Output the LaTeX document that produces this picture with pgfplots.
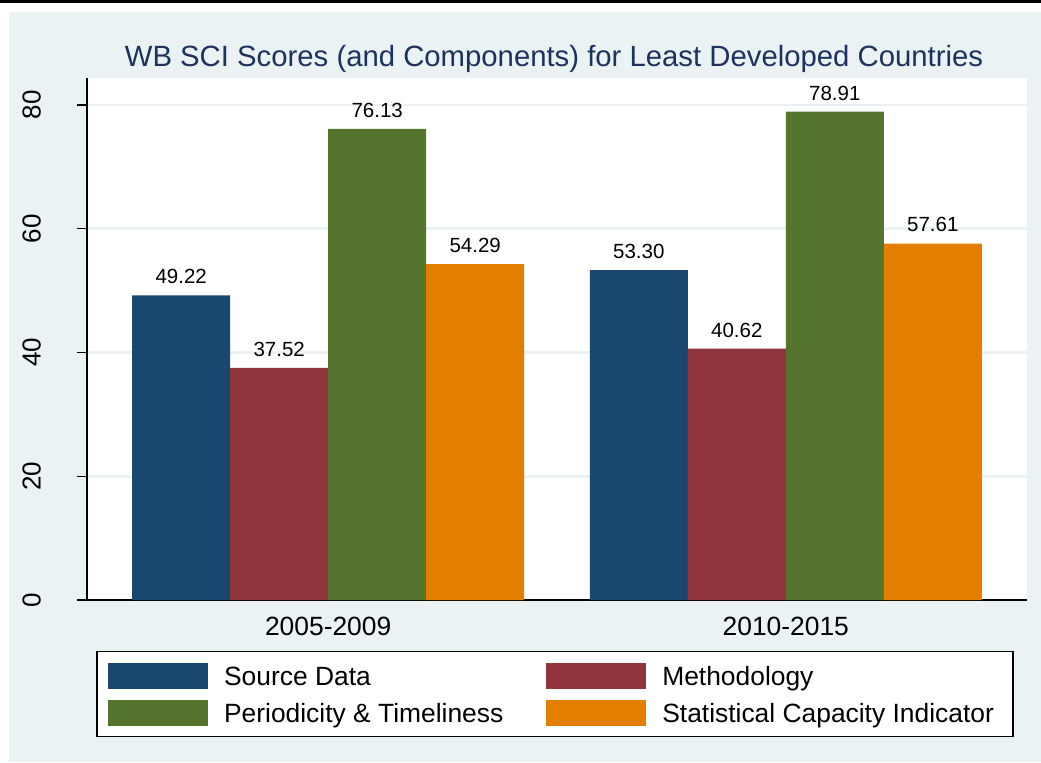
\documentclass[border=0pt]{standalone}
\usepackage{fontspec}
\setmainfont{Liberation Sans}
\usepackage{pgfplots}
\pgfplotsset{compat=1.18}
\definecolor{bgc}{RGB}{234,242,243}
\definecolor{snavy}{RGB}{26,71,111}
\definecolor{smaroon}{RGB}{144,53,59}
\definecolor{sgreen}{RGB}{85,117,47}
\definecolor{sorange}{RGB}{227,126,0}
\definecolor{titlec}{RGB}{30,50,95}
\begin{document}
\begin{tikzpicture}[x=1pt,y=1pt]
\path[use as bounding box] (0,0) rectangle (520.5,381);
\fill[white] (0,0) rectangle (520.5,381);
\fill[black] (0,379.3) rectangle (520.5,381);
\fill[bgc] (4.5,0) rectangle (520.5,375.2);
\begin{axis}[
  at={(43.5pt,81pt)}, anchor=south west,
  scale only axis, width=470pt, height=261pt,
  xmin=-0.527, xmax=1.527, ymin=0, ymax=84.36,
  axis x line*=bottom, axis y line*=left,
  axis line style={line width=0.6pt, -},
  axis background/.style={fill=white},
  xtick={0,1}, xticklabels={2005-2009,2010-2015},
  major x tick style={draw=none},
  ytick={0,20,40,60,80},
  tick align=outside,
  major tick length=5pt,
  tick style={black, line width=0.6pt},
  ymajorgrids, grid style={bgc, line width=1.3pt},
  /pgf/number format/assume math mode=true,
  xticklabel style={font=\fontsize{13.2}{15}\selectfont},
  yticklabel style={font=\fontsize{13}{15}\selectfont, rotate=90, anchor=south},
  yticklabel shift=14.5pt,
  title={WB SCI Scores (and Components) for Least Developed Countries},
  title style={font=\fontsize{14.65}{17}\selectfont, color=titlec, at={(0.5,1)}, anchor=base, yshift=-0.35pt, xshift=-1.5pt},
  ybar=0pt, bar width=49pt,
  nodes near coords={\pgfmathprintnumber[fixed,fixed zerofill,precision=2,assume math mode=true]{\pgfplotspointmeta}},
  every node near coord/.append style={font=\fontsize{10.25}{12}\selectfont, black, inner sep=0pt, anchor=south, yshift=5.5pt},
  legend columns=2,
  legend image code/.code={\fill[#1,draw=none] (0pt,-1.8pt) rectangle (50pt,11.2pt);},
  legend style={at={(0.5,0)}, anchor=north, yshift=-25.5pt, xshift=-1pt, draw=black, line width=0.6pt, fill=white,
    font=\fontsize{13.2}{15}\selectfont, inner xsep=5.5pt, inner ysep=5.5pt, row sep=5.5pt,
    cells={anchor=base west},
    nodes={inner sep=0pt, text depth=0pt},
    /tikz/every odd column/.append style={column sep=8pt},
    /tikz/every even column/.append style={column sep=21.5pt}},
]
\addplot[fill=snavy, draw=none] coordinates {(0,49.22) (1,53.30)};
\addplot[fill=smaroon, draw=none] coordinates {(0,37.52) (1,40.62)};
\addplot[fill=sgreen, draw=none] coordinates {(0,76.13) (1,78.91)};
\addplot[fill=sorange, draw=none] coordinates {(0,54.29) (1,57.61)};
\legend{Source Data, Methodology, Periodicity \& Timeliness, Statistical Capacity Indicator\rule{4pt}{0pt}}
\end{axis}
\end{tikzpicture}
\end{document}
